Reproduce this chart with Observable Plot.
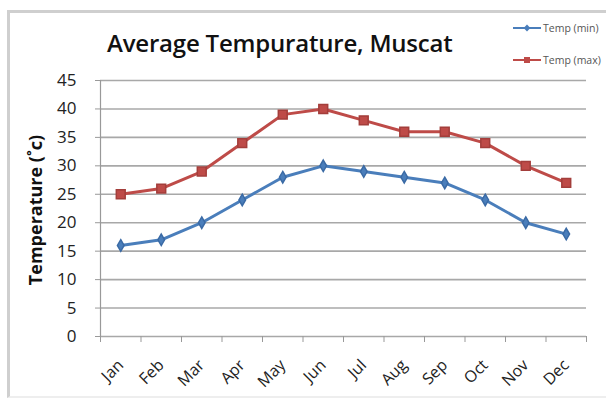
<!DOCTYPE html>
<html><head><meta charset="utf-8">
<script src="https://cdn.jsdelivr.net/npm/d3@7"></script>
<script src="https://cdn.jsdelivr.net/npm/@observablehq/plot@0.6"></script>
<style>
body{margin:0;background:#fff;font-family:"Open Sans",sans-serif;}
#wrap{position:relative;width:606px;height:405px;overflow:hidden;}
#frame{position:absolute;left:7px;top:10px;width:620px;height:388px;border-left:3px solid #cfcfcf;border-top:3px solid #cfcfcf;border-bottom:2px solid #eee;box-sizing:border-box;}
#title{position:absolute;left:107px;top:26px;font-size:24px;font-weight:600;color:#111;white-space:nowrap;letter-spacing:-0.2px;}
.leg{position:absolute;left:513px;font-size:10.5px;color:#555;display:flex;align-items:center;white-space:nowrap;}
.leg span.ln{display:inline-block;width:28px;height:2px;margin-right:2px;position:relative;}
.leg span.mk{position:absolute;left:11px;top:-2px;width:6px;height:6px;}
#ytitle{position:absolute;left:35px;top:210px;transform:translate(-50%,-50%) rotate(-90deg);font-size:18px;font-weight:700;color:#111;white-space:nowrap;}
#chart{position:absolute;left:0;top:0;}
</style></head>
<body><div id="wrap"><div id="frame"></div><div id="chart"></div><div id="title"></div><div id="ytitle"></div><div id="legend"></div></div>
<script>
const months = ["Jan","Feb","Mar","Apr","May","Jun","Jul","Aug","Sep","Oct","Nov","Dec"];
const tempMin = [16,17,20,24,28,30,29,28,27,24,20,18];
const tempMax = [25,26,29,34,39,40,38,36,36,34,30,27];
const yTicks = [0,5,10,15,20,25,30,35,40,45];
const seriesNames = ["Temp (min)","Temp (max)"];
const colors = ["#4a7ebb","#be4b48"];
const titleText = "Average Tempurature, Muscat";
const yLabel = "Temperature (˚c)";

const idx = months.map((m,i)=>i);
const dMin = idx.map(i=>({i, v: tempMin[i]}));
const dMax = idx.map(i=>({i, v: tempMax[i]}));
const bounds = d3.range(months.length+1).map(i=>i-0.5);

const chart = Plot.plot({
  width: 606, height: 405,
  marginLeft: 100, marginRight: 20, marginTop: 80, marginBottom: 69,
  style: {fontFamily: "Open Sans, sans-serif", background: "transparent"},
  x: {domain: [-0.5, months.length-0.5], axis: null},
  y: {domain: [0,45], axis: null},
  marks: [
    Plot.ruleY(yTicks, {stroke: "#a8a8a8", strokeWidth: 1.6}),
    Plot.ruleX([-0.5], {stroke: "#999", strokeWidth: 1.2}),
    Plot.axisY(yTicks, {tickSize: 5, tickPadding: 19, fontSize: 17, fill: "#222", stroke: "#999", label: null}),
    Plot.axisX(bounds, {tickSize: 6, tickFormat: () => "", stroke: "#999", label: null}),
    Plot.axisX(idx, {tickSize: 0, tickRotate: -45, tickPadding: 26, fontSize: 16, fill: "#222", tickFormat: i => months[i], label: null}),
    Plot.line(dMin, {x: "i", y: "v", stroke: colors[0], strokeWidth: 3}),
    Plot.line(dMax, {x: "i", y: "v", stroke: colors[1], strokeWidth: 3}),
    Plot.dot(dMin, {x: "i", y: "v", symbol: "diamond", fill: colors[0], stroke: "#3a6aa5", r: 3.5}),
    Plot.dot(dMax, {x: "i", y: "v", symbol: "square", fill: colors[1], stroke: "#a33e3b", r: 5})
  ]
});
document.getElementById("chart").appendChild(chart);
document.getElementById("title").textContent = titleText;
document.getElementById("ytitle").textContent = yLabel;
const leg = document.getElementById("legend");
seriesNames.forEach((n,k)=>{
  const d = document.createElement("div");
  d.className = "leg";
  d.style.top = (k===0 ? 21 : 53) + "px";
  const ln = document.createElement("span");
  ln.className = "ln"; ln.style.background = colors[k];
  const mk = document.createElement("span");
  mk.className = "mk"; mk.style.background = colors[k];
  if (k===0) mk.style.transform = "rotate(45deg) scale(0.8)";
  ln.appendChild(mk);
  d.appendChild(ln);
  const t = document.createElement("span"); t.textContent = n;
  d.appendChild(t);
  leg.appendChild(d);
});
</script></body></html>
